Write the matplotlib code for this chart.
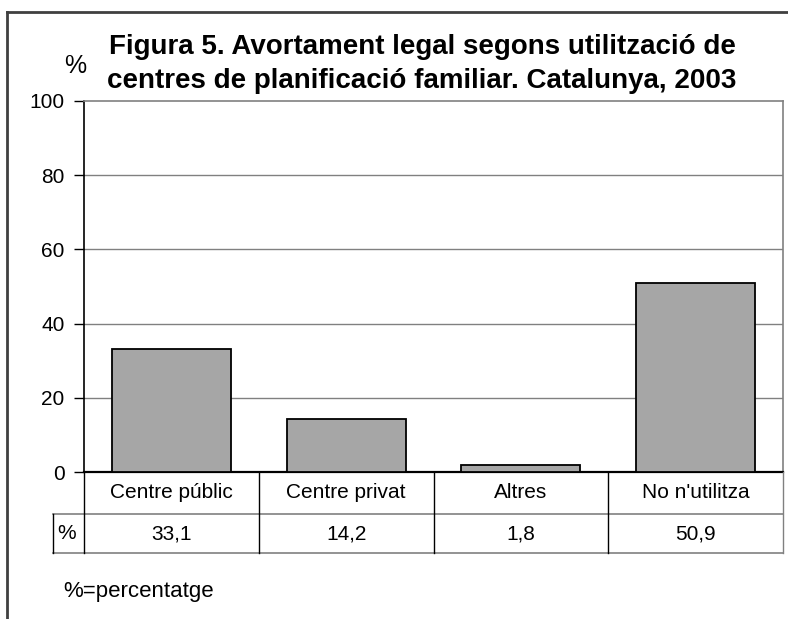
import numpy as np
import matplotlib.pyplot as plt
from matplotlib.lines import Line2D

categories = ["Centre públic", "Centre privat", "Altres", "No n'utilitza"]
values = [33.1, 14.2, 1.8, 50.9]
value_labels = ["33,1", "14,2", "1,8", "50,9"]
yticks = [0, 20, 40, 60, 80, 100]

plt.rcParams['font.family'] = ['Liberation Sans', 'DejaVu Sans']

W, H = 788, 619
fig = plt.figure(figsize=(W / 100, H / 100), dpi=100)

def fx(px):
    return px / W

def fy(py):
    return 1 - py / H

# plot area in pixel coords
L, R, T, B = 84, 783, 101, 472
ax = fig.add_axes([fx(L), fy(B), fx(R - L), (B - T) / H])

x = np.arange(len(categories))
ax.bar(x, values, width=0.68, color='#a6a6a6', edgecolor='black', linewidth=1.3, zorder=3)
ax.set_xlim(-0.5, len(categories) - 0.5)
ax.set_ylim(0, 100)
ax.set_yticks(yticks)
ax.set_yticklabels([str(v) for v in yticks], fontsize=15)
ax.set_xticks([])
ax.tick_params(axis='y', direction='out', length=7, width=1, pad=7, colors='black')
for v in yticks[1:-1]:
    ax.axhline(v, color='#808080', lw=1, zorder=1)
ax.spines['left'].set_color('black')
ax.spines['left'].set_linewidth(1.2)
ax.spines['bottom'].set_color('black')
ax.spines['bottom'].set_linewidth(1.6)
ax.spines['top'].set_color('#808080')
ax.spines['right'].set_color('#808080')
ax.spines['top'].set_linewidth(1.2)
ax.spines['right'].set_linewidth(1.2)

# data table below the axis
row1_bot, row2_bot = 514, 553
tab_left = 53
cell_w = (R - L) / len(categories)
edges = [L + i * cell_w for i in range(len(categories) + 1)]

def hline(y, x0, x1, color, lw):
    fig.add_artist(Line2D([fx(x0), fx(x1)], [fy(y), fy(y)], color=color, lw=lw))

def vline(xp, y0, y1, color, lw):
    fig.add_artist(Line2D([fx(xp), fx(xp)], [fy(y0), fy(y1)], color=color, lw=lw))

hline(row1_bot, tab_left, R, '#808080', 1.2)
hline(row2_bot, tab_left, R, '#808080', 1.2)
vline(tab_left, row1_bot, row2_bot, 'black', 1)
for i, e in enumerate(edges):
    c = '#808080' if i == len(edges) - 1 else 'black'
    vline(e, B, row2_bot, c, 1)

for i, (cat, lab) in enumerate(zip(categories, value_labels)):
    cx = (edges[i] + edges[i + 1]) / 2
    fig.text(fx(cx), fy((B + row1_bot) / 2), cat, ha='center', va='center', fontsize=15)
    fig.text(fx(cx), fy((row1_bot + row2_bot) / 2), lab, ha='center', va='center', fontsize=15)
fig.text(fx(67), fy((row1_bot + row2_bot) / 2), "%", ha='center', va='center', fontsize=15)

# titles and notes
fig.text(fx(422), fy(47), "Figura 5. Avortament legal segons utilització de",
         ha='center', va='center', fontsize=20, fontweight='bold')
fig.text(fx(422), fy(81), "centres de planificació familiar. Catalunya, 2003",
         ha='center', va='center', fontsize=20, fontweight='bold')
fig.text(fx(75), fy(66), "%", ha='center', va='center', fontsize=18)
fig.text(fx(63), fy(591), "%=percentatge", ha='left', va='center', fontsize=16)

# outer frame (top and left)
hline(12, 7, W, '#404040', 2)
vline(7, 12, H, '#404040', 2)

fig.savefig("out.png", dpi=100)
